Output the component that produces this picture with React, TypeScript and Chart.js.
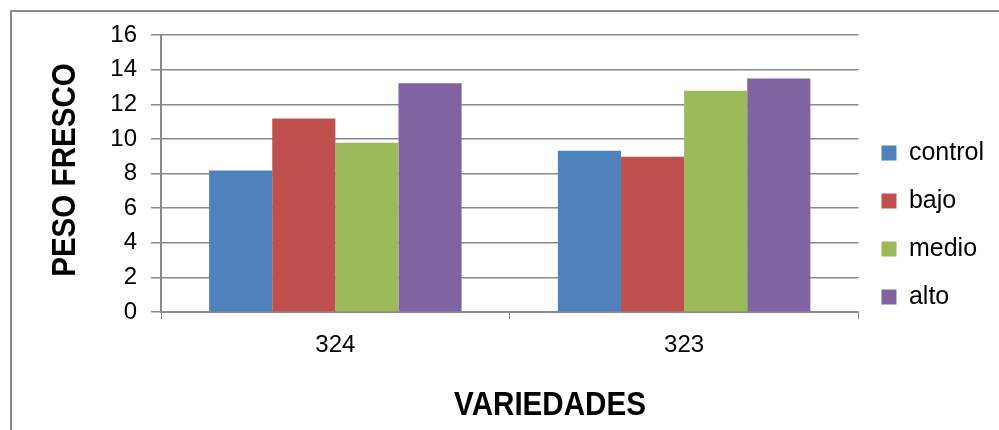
import React, { useEffect, useRef } from "react";
import { Chart, registerables } from "chart.js";

Chart.register(...registerables);

const categories = ["324", "323"];
const seriesNames = ["control", "bajo", "medio", "alto"];
const controlValues = [8.18, 9.31];
const bajoValues = [11.17, 8.97];
const medioValues = [9.77, 12.78];
const altoValues = [13.21, 13.49];
const seriesColors = ["#4F81BD", "#C0504D", "#9BBB59", "#8064A2"];
const yTitle = "PESO FRESCO";
const xTitle = "VARIEDADES";

const framePlugin = {
  id: "frameAndTitles",
  beforeDraw(chart: any) {
    const ctx = chart.ctx;
    ctx.save();
    ctx.fillStyle = "#ffffff";
    ctx.fillRect(0, 0, chart.width, chart.height);
    ctx.strokeStyle = "#8a8a8a";
    ctx.lineWidth = 2;
    ctx.beginPath();
    ctx.moveTo(chart.width, 11);
    ctx.lineTo(11, 11);
    ctx.lineTo(11, chart.height);
    ctx.stroke();
    ctx.restore();
  },
  afterDraw(chart: any) {
    const ctx = chart.ctx;
    ctx.save();
    ctx.fillStyle = "#000000";
    ctx.font = "bold 34px 'Liberation Sans'";
    ctx.textAlign = "center";
    ctx.textBaseline = "alphabetic";
    // x-axis title
    ctx.save();
    ctx.translate(550, 415);
    ctx.scale(0.87, 1);
    ctx.fillText(xTitle, 0, 0);
    ctx.restore();
    // y-axis title
    ctx.save();
    ctx.translate(75, 170);
    ctx.rotate(-Math.PI / 2);
    ctx.scale(0.87, 1);
    ctx.fillText(yTitle, 0, 0);
    ctx.restore();
    ctx.restore();
  },
};

export default function App() {
  const canvasRef = useRef<HTMLCanvasElement | null>(null);

  useEffect(() => {
    if (!canvasRef.current) return;
    const allValues = [controlValues, bajoValues, medioValues, altoValues];
    const chart = new Chart(canvasRef.current, {
      type: "bar",
      data: {
        labels: categories,
        datasets: seriesNames.map((name, i) => ({
          label: name,
          data: allValues[i],
          backgroundColor: seriesColors[i],
          borderWidth: 0,
          barPercentage: 1,
          categoryPercentage: 0.724,
        })),
      },
      options: {
        responsive: false,
        maintainAspectRatio: false,
        animation: false,
        layout: { padding: { top: 35, bottom: 15, left: 0, right: 5 } },
        plugins: {
          tooltip: { enabled: false },
          legend: {
            position: "right",
            maxWidth: 136,
            labels: {
              boxWidth: 15,
              boxHeight: 15,
              padding: 23,
              color: "#000000",
              font: { family: "'Liberation Sans'", size: 25 },
            },
          },
        },
        scales: {
          x: {
            afterFit: (scale: any) => {
              scale.height = 103;
            },
            grid: {
              display: true,
              drawOnChartArea: false,
              drawTicks: true,
              tickLength: 7,
              color: "#8a8a8a",
              offset: true,
            },
            border: { display: true, color: "#8a8a8a", width: 2 },
            ticks: {
              color: "#000000",
              padding: 12,
              font: { family: "'Liberation Sans'", size: 24 },
            },
          },
          y: {
            min: 0,
            max: 16,
            afterFit: (scale: any) => {
              scale.width = 161;
            },
            grid: {
              display: true,
              drawOnChartArea: true,
              drawTicks: true,
              tickLength: 10,
              color: "#8a8a8a",
              lineWidth: 1.5,
            },
            border: { display: true, color: "#8a8a8a", width: 2 },
            ticks: {
              stepSize: 2,
              color: "#000000",
              padding: 14,
              font: { family: "'Liberation Sans'", size: 24 },
            },
          },
        },
      },
      plugins: [framePlugin],
    });
    return () => chart.destroy();
  }, []);

  return (
    <div style={{ position: "fixed", left: 0, top: 0, width: 999, height: 430, background: "#fff" }}>
      <canvas ref={canvasRef} width={999} height={430} style={{ display: "block" }} />
    </div>
  );
}
